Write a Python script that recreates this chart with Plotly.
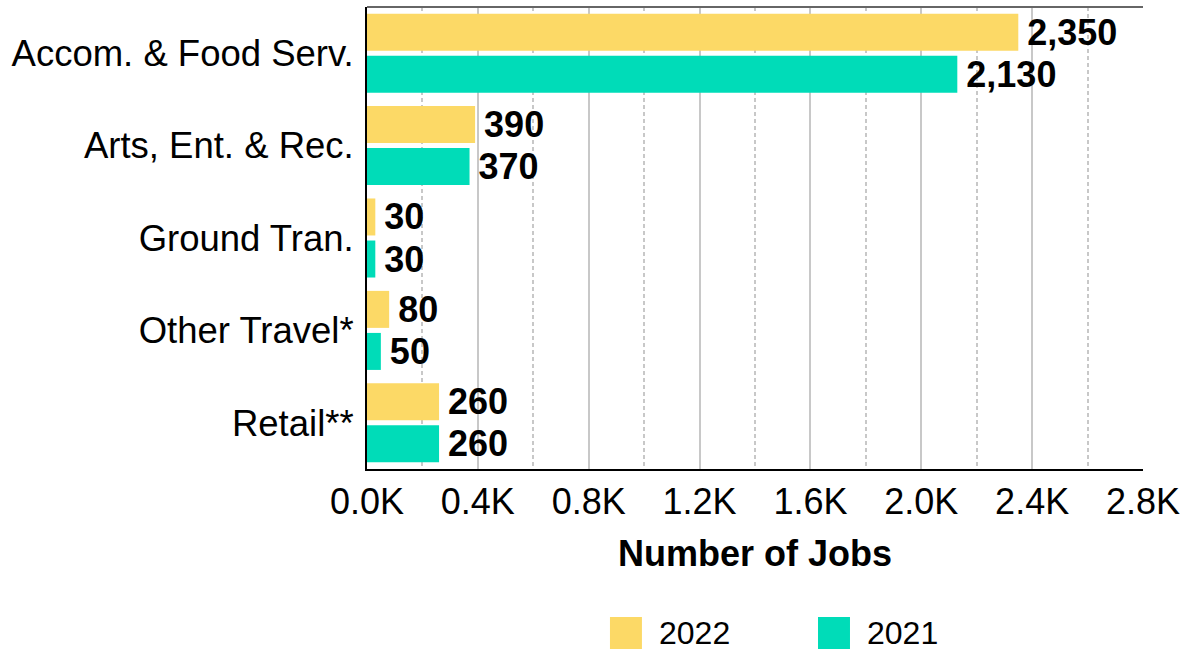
import plotly.graph_objects as go

categories = ["Accom. & Food Serv.", "Arts, Ent. & Rec.", "Ground Tran.", "Other Travel*", "Retail**"]
jobs_2022 = [2350, 390, 30, 80, 260]
jobs_2021 = [2130, 370, 30, 50, 260]
series_names = ["2022", "2021"]
tick_vals = [0, 400, 800, 1200, 1600, 2000, 2400, 2800]
tick_text = ["0.0K", "0.4K", "0.8K", "1.2K", "1.6K", "2.0K", "2.4K", "2.8K"]

YELLOW = "#FCD966"
TEAL = "#00DCB8"
FONT = "Liberation Sans, Arial, sans-serif"
GRID = "#C8C8C8"

fig = go.Figure()
for name, vals, col in [(series_names[0], jobs_2022, YELLOW), (series_names[1], jobs_2021, TEAL)]:
    fig.add_trace(go.Bar(
        y=categories, x=vals, name=name, orientation="h",
        marker=dict(color=col, line=dict(width=0)),
        texttemplate="\u2006<b>%{x:,}</b>", textposition="outside",
        textfont=dict(family=FONT, size=36, color="black"),
        constraintext="none", cliponaxis=False, showlegend=False,
    ))

fig.update_layout(
    width=1184, height=650,
    margin=dict(l=367, r=41, t=7, b=181),
    paper_bgcolor="white", plot_bgcolor="white",
    barmode="group", bargap=0.09, bargroupgap=0.12,
    font=dict(family=FONT, color="black"),
    showlegend=False,
)
fig.update_xaxes(
    range=[0, 2800], tickvals=tick_vals, ticktext=tick_text,
    tickfont=dict(size=36, color="black"),
    showgrid=True, gridcolor=GRID, gridwidth=2,
    minor=dict(dtick=200, tick0=0, showgrid=True, gridcolor=GRID, gridwidth=2, griddash="4px,3px"),
    showline=True, linecolor="black", linewidth=2,
    zeroline=False, ticks="", automargin=False,
    title=dict(text="<b>Number of Jobs</b>", font=dict(size=36, color="black"), standoff=20),
)
fig.update_yaxes(
    autorange="reversed", tickfont=dict(size=36.5, color="black"),
    showgrid=False, showline=True, linecolor="black", linewidth=2,
    ticks="", ticklabelstandoff=4, automargin=False,
)
# top border
fig.add_shape(type="line", xref="paper", yref="paper", x0=0, x1=1, y0=1, y1=1,
              line=dict(color="#666666", width=2))
# manual legend
legend_items = [(series_names[0], YELLOW, 0.3131), (series_names[1], TEAL, 0.5812)]
for name, col, x0 in legend_items:
    fig.add_shape(type="rect", xref="paper", yref="paper", x0=x0, x1=x0 + 0.0412,
                  y0=-0.3896, y1=-0.3203, fillcolor=col, line=dict(width=0))
    fig.add_annotation(xref="paper", yref="paper", x=x0 + 0.0606, y=-0.355,
                       text=name, showarrow=False, xanchor="left", yanchor="middle",
                       font=dict(family=FONT, size=32, color="black"))

fig.write_html("out.html", config={"displayModeBar": False},
               post_script="document.body.style.margin='0';document.body.style.overflow='hidden';")
